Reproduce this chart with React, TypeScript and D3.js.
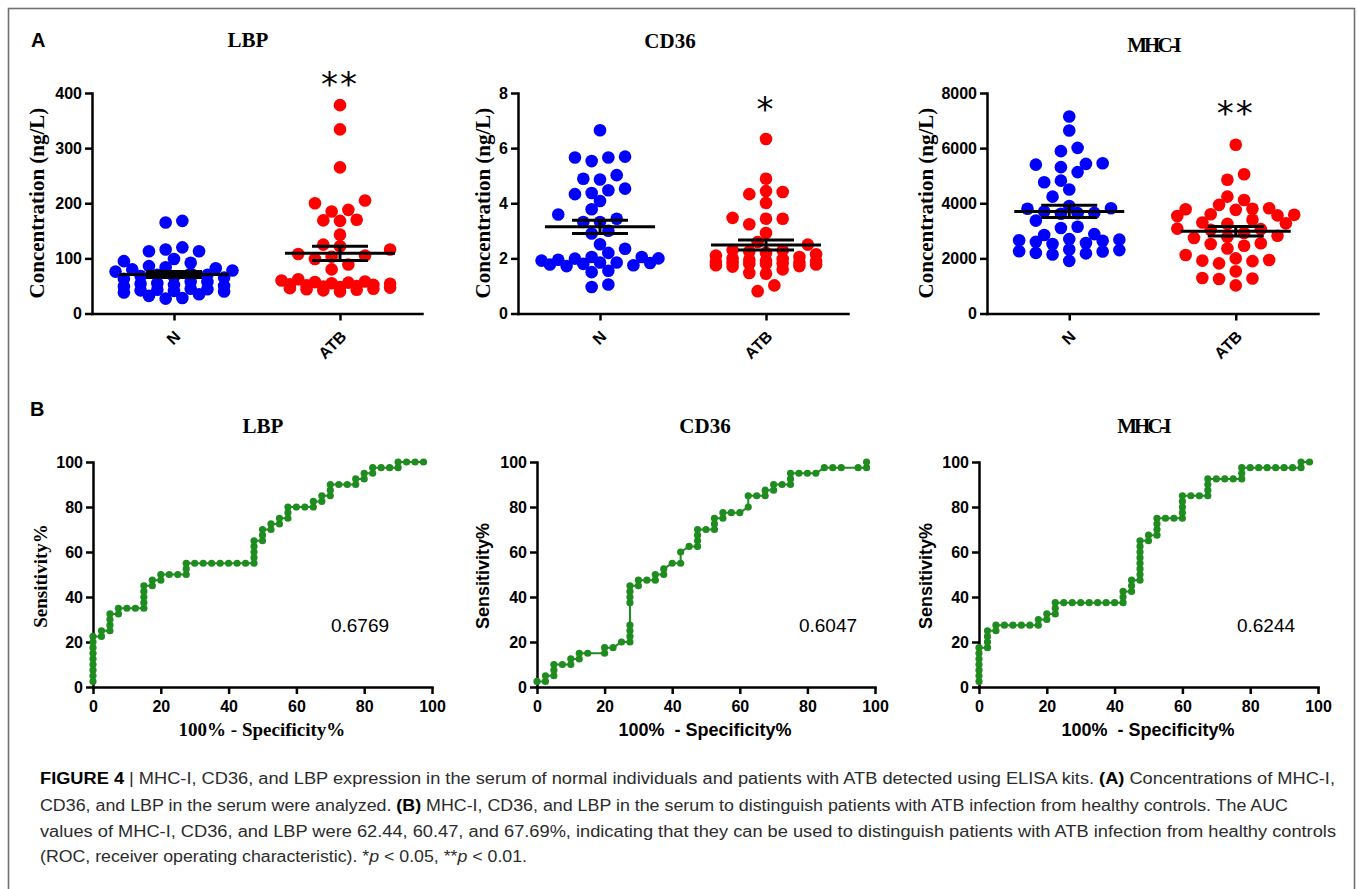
import React, { useRef, useEffect } from 'react'
import * as d3 from 'd3'

// ---- data ----
const groups = ['N', 'ATB']
const groupColors = ['#0000ff', '#ff0000']

// panel A: serum concentrations, one value per subject
const lbpN = [27, 28, 32, 35, 38, 40, 41, 42, 43, 44, 45, 49, 50, 52, 54, 55, 57, 58, 63, 65, 66, 68, 70, 70, 72, 76, 78, 80, 82, 84, 86, 92, 95, 99, 113, 113, 116, 120, 165, 168]
const lbpATB = [40, 42, 43, 44, 45, 46, 47, 48, 49, 50, 51, 52, 53, 54, 55, 56, 57, 58, 60, 62, 80, 89, 99, 103, 105, 108, 116, 122, 125, 143, 168, 169, 170, 185, 188, 200, 205, 265, 334, 378]
const cd36N = [0.96, 1.05, 1.5, 1.55, 1.72, 1.75, 1.78, 1.8, 1.83, 1.85, 1.85, 1.92, 1.95, 1.99, 2.0, 2.05, 2.05, 2.2, 2.35, 2.51, 2.9, 3.0, 3.32, 3.32, 3.44, 3.59, 3.78, 4.08, 4.33, 4.37, 4.47, 4.53, 4.86, 4.89, 5.02, 5.53, 5.66, 5.66, 5.69, 6.65]
const cd36ATB = [0.81, 1.02, 1.44, 1.47, 1.6, 1.7, 1.72, 1.75, 1.78, 1.8, 1.8, 1.82, 1.83, 1.85, 1.88, 1.9, 1.92, 1.95, 1.98, 2.0, 2.05, 2.1, 2.15, 2.2, 2.25, 2.29, 2.3, 2.5, 2.59, 2.92, 3.24, 3.44, 3.44, 3.47, 4.01, 4.33, 4.41, 4.44, 4.89, 6.33]
const mhcN = [1910, 2140, 2180, 2200, 2250, 2260, 2300, 2320, 2520, 2560, 2600, 2640, 2660, 2680, 2700, 2850, 2880, 3100, 3150, 3370, 3620, 3640, 3650, 3700, 3800, 3820, 3900, 4240, 4500, 4760, 4820, 5130, 5310, 5400, 5430, 5450, 5890, 6010, 6640, 7150]
const mhcATB = [1020, 1250, 1270, 1290, 1530, 1820, 1900, 1920, 1940, 2000, 2120, 2360, 2460, 2520, 2550, 2740, 2780, 2820, 2920, 3040, 3060, 3080, 3250, 3270, 3300, 3400, 3540, 3560, 3580, 3600, 3760, 3780, 3800, 3820, 3940, 4120, 4240, 4850, 5050, 6120]

const lbpTicks = [0, 100, 200, 300, 400]
const cd36Ticks = [0, 2, 4, 6, 8]
const mhcTicks = [0, 2000, 4000, 6000, 8000]
const rocTicks = [0, 20, 40, 60, 80, 100]

// panel B: ROC points [100% - specificity%, sensitivity%]
const lbpRoc = [
  [0, 2.5], [0, 5], [0, 7.5], [0, 10], [0, 12.5], [0, 15], [0, 17.5], [0, 20], [0, 22.5],
  [2.5, 22.5], [2.5, 25], [5, 25], [5, 27.5], [5, 30], [5, 32.5], [7.5, 32.5], [7.5, 35],
  [10, 35], [12.5, 35], [15, 35], [15, 37.5], [15, 40], [15, 42.5], [15, 45],
  [17.5, 45], [17.5, 47.5], [20, 47.5], [20, 50], [22.5, 50], [25, 50],
  [27.5, 50], [27.5, 52.5], [27.5, 55], [30, 55], [32.5, 55], [35, 55], [37.5, 55], [40, 55], [42.5, 55], [45, 55],
  [47.5, 55], [47.5, 57.5], [47.5, 60], [47.5, 62.5], [47.5, 65], [50, 65], [50, 67.5], [50, 70],
  [52.5, 70], [52.5, 72.5], [55, 72.5], [55, 75], [57.5, 75], [57.5, 77.5], [57.5, 80],
  [60, 80], [62.5, 80], [65, 80], [65, 82.5], [67.5, 82.5], [67.5, 85], [70, 85], [70, 87.5], [70, 90],
  [72.5, 90], [75, 90], [77.5, 90], [77.5, 92.5], [80, 92.5], [80, 95], [82.5, 95], [82.5, 97.5],
  [85, 97.5], [87.5, 97.5], [90, 97.5], [90, 100], [92.5, 100], [95, 100], [97.5, 100],
]
const cd36Roc = [
  [0, 2.5], [2.5, 2.5], [2.5, 5], [5, 5], [5, 7.5], [5, 10], [7.5, 10], [10, 10], [10, 12.5],
  [12.5, 12.5], [12.5, 15], [15, 15], [20, 15], [20, 17.5], [22.5, 17.5], [25, 20],
  [27.5, 20], [27.5, 22.5], [27.5, 25], [27.5, 27.5], [27.5, 37.5], [27.5, 40], [27.5, 42.5], [27.5, 45],
  [30, 45], [30, 47.5], [32.5, 47.5], [35, 47.5], [35, 50], [37.5, 50], [37.5, 52.5], [40, 55],
  [42.5, 55], [42.5, 60], [45, 62.5], [47.5, 62.5], [47.5, 65], [47.5, 67.5], [47.5, 70], [50, 70],
  [52.5, 70], [52.5, 72.5], [52.5, 75], [55, 75], [55, 77.5], [57.5, 77.5], [60, 77.5],
  [62.5, 80], [62.5, 85], [65, 85], [67.5, 85], [67.5, 87.5], [70, 87.5], [70, 90], [72.5, 90],
  [75, 90], [75, 92.5], [75, 95], [77.5, 95], [80, 95], [82.5, 95],
  [85, 97.5], [87.5, 97.5], [90, 97.5], [95, 97.5], [97.5, 97.5], [97.5, 100],
]
const mhcRoc = [
  [0, 2.5], [0, 5], [0, 7.5], [0, 10], [0, 12.5], [0, 15], [0, 17.5],
  [2.5, 17.5], [2.5, 20], [2.5, 22.5], [2.5, 25], [5, 25], [5, 27.5],
  [7.5, 27.5], [10, 27.5], [12.5, 27.5], [15, 27.5], [17.5, 27.5], [17.5, 30], [20, 30], [20, 32.5],
  [22.5, 32.5], [22.5, 35], [22.5, 37.5], [25, 37.5], [27.5, 37.5], [30, 37.5], [32.5, 37.5], [35, 37.5], [37.5, 37.5], [40, 37.5],
  [42.5, 37.5], [42.5, 40], [42.5, 42.5], [45, 42.5], [45, 45], [45, 47.5],
  [47.5, 47.5], [47.5, 50], [47.5, 52.5], [47.5, 55], [47.5, 57.5], [47.5, 60], [47.5, 62.5], [47.5, 65],
  [50, 65], [50, 67.5], [52.5, 67.5], [52.5, 70], [52.5, 72.5], [52.5, 75], [55, 75], [57.5, 75],
  [60, 75], [60, 77.5], [60, 80], [60, 82.5], [60, 85], [62.5, 85], [65, 85],
  [67.5, 85], [67.5, 87.5], [67.5, 90], [67.5, 92.5], [70, 92.5], [72.5, 92.5], [75, 92.5],
  [77.5, 92.5], [77.5, 95], [77.5, 97.5], [80, 97.5], [82.5, 97.5], [85, 97.5], [87.5, 97.5], [90, 97.5], [92.5, 97.5],
  [95, 97.5], [95, 100], [97.5, 100],
]

const captionLines = [
  [['FIGURE 4', true], [' | MHC-I, CD36, and LBP expression in the serum of normal individuals and patients with ATB detected using ELISA kits. ', false], ['(A)', true], [' Concentrations of MHC-I,', false]],
  [['CD36, and LBP in the serum were analyzed. ', false], ['(B)', true], [' MHC-I, CD36, and LBP in the serum to distinguish patients with ATB infection from healthy controls. The AUC', false]],
  [['values of MHC-I, CD36, and LBP were 62.44, 60.47, and 67.69%, indicating that they can be used to distinguish patients with ATB infection from healthy controls', false]],
  [['(ROC, receiver operating characteristic). *', false], ['p', 'i'], [' < 0.05, **', false], ['p', 'i'], [' < 0.01.', false]],
]
const captionWidths = [1295, 1248, 1296, 487]

const SANS = 'Liberation Sans, Arial, Helvetica, sans-serif'
const SERIF = 'Liberation Serif, Times New Roman, serif'
const NARROW = 'Liberation Sans Narrow, Arial Narrow, Liberation Sans, sans-serif'
const GREEN = '#1e8c1e'

// Prism-like column scatter: values close in y share a row; each point takes the
// free column nearest the centre that does not sit on an earlier dot
function rows(values, y, binH = 6, cap = 7, step = 16.7, minDist = 11.5) {
  const sorted = [...values].sort((a, b) => a - b)
  const placed = []
  let bin = []
  const flush = () => {
    const half = bin.length % 2 ? 0 : 0.5
    const slots = d3.range(-3 - half, 3 + half + 0.01, 1)
      .sort((a, b) => Math.abs(a) - Math.abs(b) || a - b)
    const used = new Set()
    bin.forEach(v => {
      const py = y(v)
      let best = slots[0]
      let bestD = -1
      for (const s of slots) {
        if (used.has(s)) continue
        const px = s * step
        const md = placed.length ? d3.min(placed, q => Math.hypot(q.px - px, q.py - py)) : Infinity
        if (md >= minDist) { best = s; bestD = md; break }
        if (md > bestD) { bestD = md; best = s }
      }
      used.add(best)
      placed.push({ v, px: best * step, py })
    })
    bin = []
  }
  sorted.forEach(v => {
    if (bin.length && (bin.length >= cap || y(bin[0]) - y(v) >= binH)) flush()
    bin.push(v)
  })
  flush()
  return placed
}

function styleAxis(g) {
  g.attr('font-family', SANS).attr('font-size', 16).attr('font-weight', 'bold')
  g.select('.domain').attr('stroke', '#000').attr('stroke-width', 2.5).attr('stroke-linecap', 'square')
  g.selectAll('.tick line').attr('stroke', '#000').attr('stroke-width', 2.5)
  g.selectAll('.tick text').attr('fill', '#000')
}

function drawScatter(svg, p) {
  const y = d3.scaleLinear().domain([0, p.max]).range([313.5, 93])
  const x = d3.scalePoint().domain(groups).range([p.x0, p.x1]).padding(0.494)
  const g = svg.append('g')

  ;[p.n, p.atb].forEach((vals, gi) => {
    const cx = x(groups[gi])
    g.append('g')
      .selectAll('circle')
      .data(rows(vals, y))
      .join('circle')
      .attr('cx', d => cx + d.px)
      .attr('cy', d => d.py)
      .attr('r', 6.3)
      .attr('fill', groupColors[gi])
  })

  // mean and SEM
  ;[p.n, p.atb].forEach((vals, gi) => {
    const cx = x(groups[gi])
    const m = d3.mean(vals)
    const sem = d3.deviation(vals) / Math.sqrt(vals.length)
    const lg = g.append('g').attr('stroke', '#000').attr('stroke-width', 3)
    lg.append('line').attr('x1', cx - 55).attr('x2', cx + 55).attr('y1', y(m)).attr('y2', y(m))
    lg.append('line').attr('x1', cx - 28).attr('x2', cx + 28).attr('y1', y(m + sem)).attr('y2', y(m + sem))
    lg.append('line').attr('x1', cx - 28).attr('x2', cx + 28).attr('y1', y(m - sem)).attr('y2', y(m - sem))
    lg.append('line').attr('x1', cx).attr('x2', cx).attr('y1', y(m + sem)).attr('y2', y(m - sem))
  })

  const ya = g.append('g')
    .attr('transform', `translate(${p.x0},0)`)
    .call(d3.axisLeft(y).tickValues(p.ticks).tickSize(7).tickSizeOuter(0).tickFormat(d3.format('d')))
  styleAxis(ya)

  const xa = g.append('g')
    .attr('transform', 'translate(0,313.5)')
    .call(d3.axisBottom(x).tickSize(7).tickSizeOuter(0))
  styleAxis(xa)
  xa.selectAll('.tick text')
    .attr('x', 0).attr('y', 0).attr('dy', null)
    .attr('text-anchor', 'end')
    .attr('transform', 'translate(7,24) rotate(-45)')

  g.append('text')
    .attr('transform', `translate(${p.labelX},203) rotate(-90)`)
    .attr('text-anchor', 'middle').attr('dy', '0.35em')
    .attr('font-family', SERIF).attr('font-weight', 'bold').attr('font-size', 21)
    .text('Concentration (ng/L)')

  g.append('text')
    .attr('x', p.titleX).attr('y', p.titleY)
    .attr('text-anchor', 'middle')
    .attr('font-family', SERIF).attr('font-weight', 'bold').attr('font-size', 21)
    .attr('letter-spacing', p.titleSpacing || 0)
    .text(p.title)

  g.append('text')
    .attr('x', x('ATB')).attr('y', p.starY)
    .attr('text-anchor', 'middle')
    .attr('font-family', 'DejaVu Sans, sans-serif').attr('font-size', 34)
    .attr('letter-spacing', 2)
    .text(p.star)
}

function drawRoc(svg, p) {
  const x = d3.scaleLinear().domain([0, 100]).range([p.x0, p.x1])
  const y = d3.scaleLinear().domain([0, 100]).range([687, 462])
  const g = svg.append('g')

  const xa = g.append('g')
    .attr('transform', 'translate(0,687)')
    .call(d3.axisBottom(x).tickValues(rocTicks).tickSize(7).tickPadding(7).tickSizeOuter(0))
  styleAxis(xa)
  const ya = g.append('g')
    .attr('transform', `translate(${p.x0},0)`)
    .call(d3.axisLeft(y).tickValues(rocTicks).tickSize(7).tickSizeOuter(0))
  styleAxis(ya)

  g.append('path')
    .datum(p.roc)
    .attr('fill', 'none')
    .attr('stroke', GREEN)
    .attr('stroke-width', 2)
    .attr('d', d3.line().x(d => x(d[0])).y(d => y(d[1])))
  g.append('g')
    .selectAll('circle')
    .data(p.roc)
    .join('circle')
    .attr('cx', d => x(d[0]))
    .attr('cy', d => y(d[1]))
    .attr('r', 3.6)
    .attr('fill', GREEN)

  const serif = p.serifLabels
  g.append('text')
    .attr('transform', `translate(${p.labelX},576) rotate(-90)`)
    .attr('text-anchor', 'middle').attr('dy', '0.35em')
    .attr('font-family', serif ? SERIF : SANS).attr('font-weight', 'bold').attr('font-size', serif ? 19 : 18)
    .text('Sensitivity%')
  g.append('text')
    .attr('x', p.xLabelX).attr('y', 736)
    .attr('text-anchor', 'middle')
    .attr('font-family', serif ? SERIF : SANS).attr('font-weight', 'bold').attr('font-size', serif ? 19 : 18)
    .attr('xml:space', 'preserve')
    .text(serif ? '100% - Specificity%' : '100%  - Specificity%')

  g.append('text')
    .attr('x', p.titleX).attr('y', 433)
    .attr('text-anchor', 'middle')
    .attr('font-family', SERIF).attr('font-weight', 'bold').attr('font-size', 21)
    .attr('letter-spacing', p.titleSpacing || 0)
    .text(p.title)

  g.append('text')
    .attr('x', p.aucX).attr('y', 632)
    .attr('text-anchor', 'middle')
    .attr('font-family', SANS).attr('font-size', 19)
    .text(p.auc)
}

export default function App() {
  const ref = useRef(null)

  useEffect(() => {
    const svg = d3.select(ref.current)
    svg.selectAll('*').remove()

    svg.append('rect').attr('width', 1357).attr('height', 889).attr('fill', '#fff')
    svg.append('rect')
      .attr('x', 8.5).attr('y', 8.5).attr('width', 1346).attr('height', 920)
      .attr('fill', 'none').attr('stroke', '#707070').attr('stroke-width', 1.6)

    svg.append('text').attr('x', 31).attr('y', 47)
      .attr('font-family', SANS).attr('font-weight', 'bold').attr('font-size', 20).text('A')
    svg.append('text').attr('x', 30).attr('y', 416)
      .attr('font-family', SANS).attr('font-weight', 'bold').attr('font-size', 20).text('B')

    drawScatter(svg, { x0: 92, x1: 422, max: 400, ticks: lbpTicks, n: lbpN, atb: lbpATB, title: 'LBP', titleX: 248, titleY: 47, star: '**', starY: 96, labelX: 37 })
    drawScatter(svg, { x0: 518, x1: 848, max: 8, ticks: cd36Ticks, n: cd36N, atb: cd36ATB, title: 'CD36', titleX: 670, titleY: 48, star: '*', starY: 121, labelX: 483 })
    drawScatter(svg, { x0: 987, x1: 1318, max: 8000, ticks: mhcTicks, n: mhcN, atb: mhcATB, title: 'MHC-I', titleX: 1153, titleY: 52, titleSpacing: -3, star: '**', starY: 125, labelX: 926 })

    drawRoc(svg, { x0: 93, x1: 432, roc: lbpRoc, title: 'LBP', titleX: 263, auc: '0.6769', aucX: 360, labelX: 40, xLabelX: 262, serifLabels: true })
    drawRoc(svg, { x0: 537, x1: 875, roc: cd36Roc, title: 'CD36', titleX: 705, auc: '0.6047', aucX: 828, labelX: 483, xLabelX: 705, serifLabels: false })
    drawRoc(svg, { x0: 979, x1: 1318, roc: mhcRoc, title: 'MHC-I', titleX: 1143, titleSpacing: -3, auc: '0.6244', aucX: 1266, labelX: 926, xLabelX: 1148, serifLabels: false })

    // caption
    const baselines = [784, 811, 837, 862]
    captionLines.forEach((parts, i) => {
      const t = svg.append('text')
        .attr('x', 40).attr('y', baselines[i])
        .attr('font-family', NARROW).attr('font-size', 16).attr('fill', '#2b2b2b')
        .attr('textLength', captionWidths[i]).attr('lengthAdjust', 'spacingAndGlyphs')
        .attr('xml:space', 'preserve')
      parts.forEach(([s, style]) => {
        t.append('tspan')
          .attr('font-weight', style === true ? 'bold' : 'normal')
          .attr('font-style', style === 'i' ? 'italic' : 'normal')
          .attr('fill', style === true ? '#000' : null)
          .text(s)
      })
    })
  }, [])

  return (
    <svg
      ref={ref}
      width={1357}
      height={889}
      style={{ position: 'absolute', left: 0, top: 0, display: 'block' }}
    />
  )
}
